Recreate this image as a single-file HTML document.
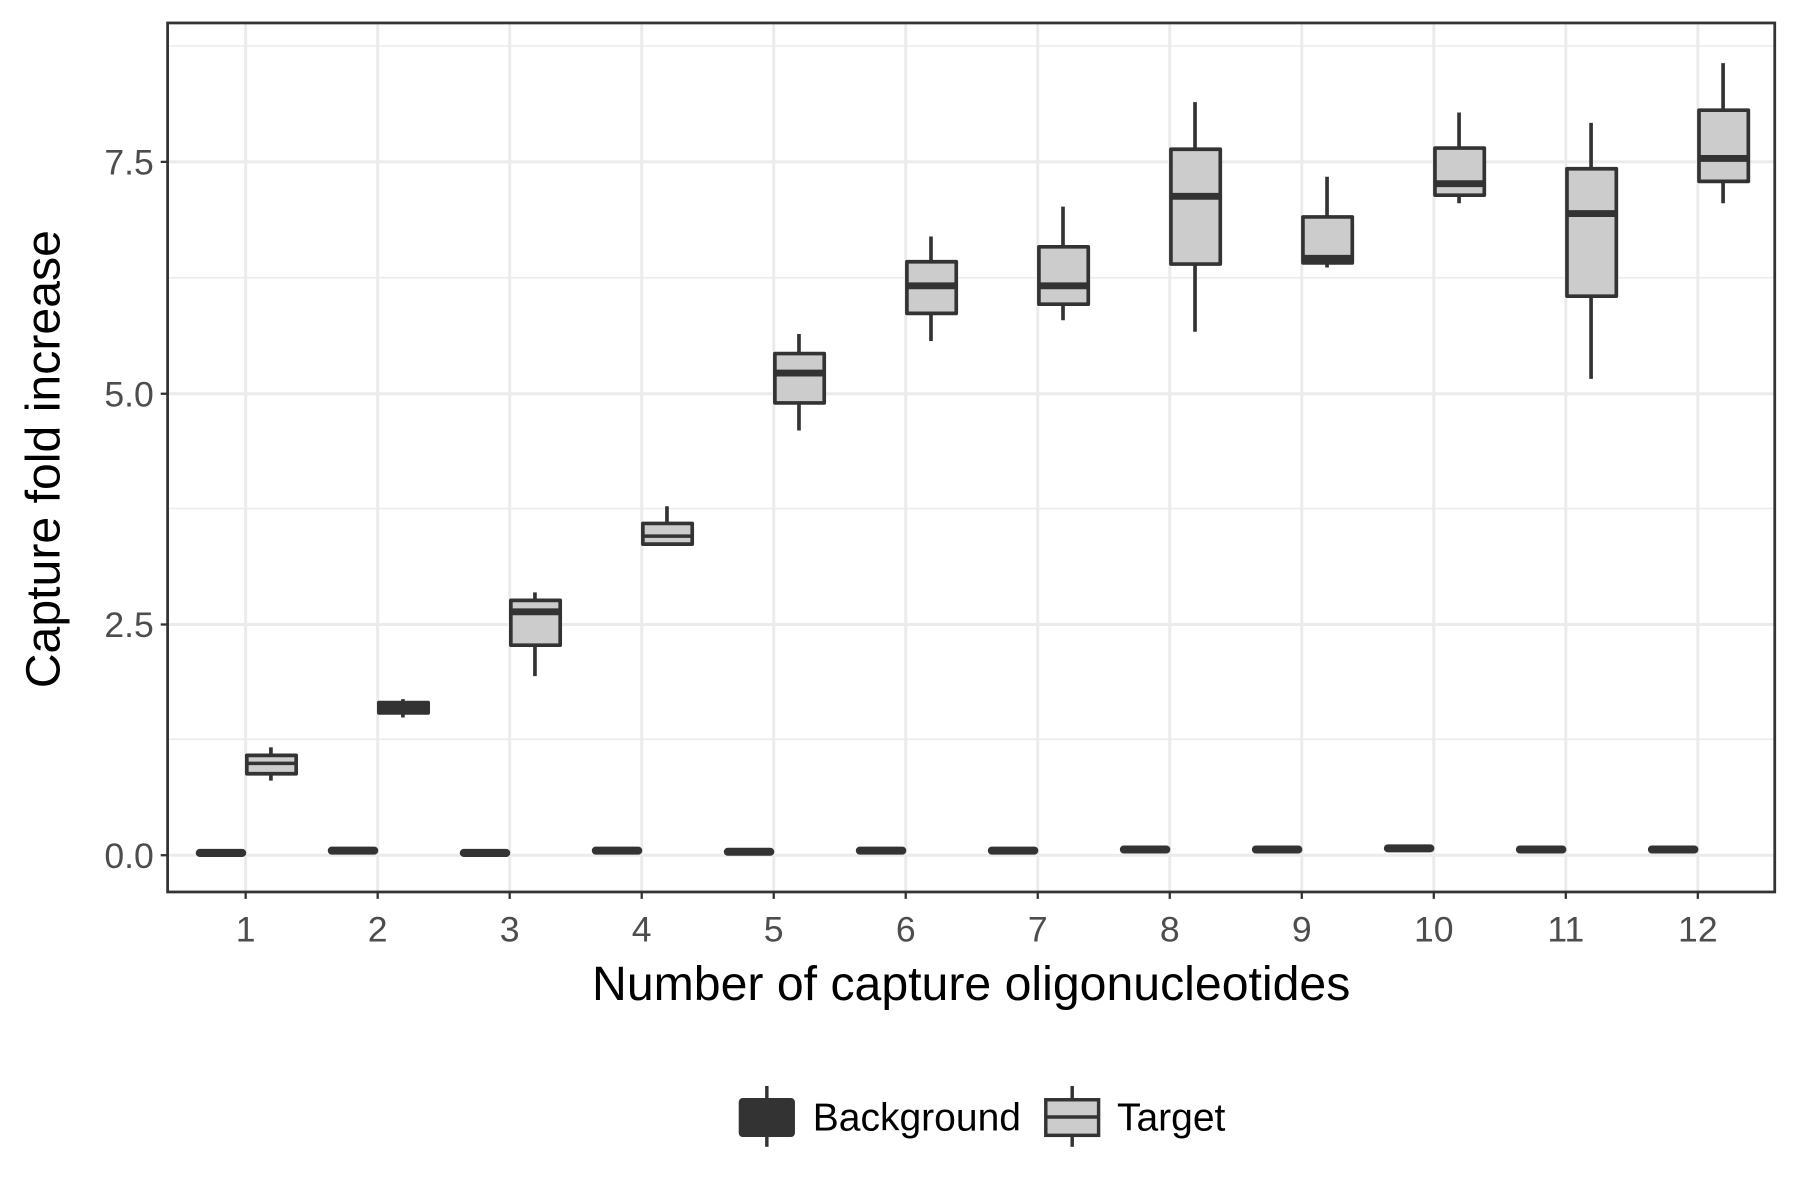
<!DOCTYPE html>
<html><head><style>body{margin:0;background:#fff}svg{display:block}</style></head><body>
<svg width="1800" height="1200" viewBox="0 0 1568 1045.33" preserveAspectRatio="none" xmlns="http://www.w3.org/2000/svg" font-family="Liberation Sans, sans-serif">
<rect width="1568" height="1046" fill="#fff"/>
<g stroke="#ebebeb" stroke-width="1.3">
<line x1="146" x2="1546" y1="644" y2="644"/><line x1="146" x2="1546" y1="443" y2="443"/><line x1="146" x2="1546" y1="242" y2="242"/><line x1="146" x2="1546" y1="40" y2="40"/>
</g>
<g stroke="#ebebeb" stroke-width="2.6">
<line x1="146" x2="1546" y1="745" y2="745"/><line x1="146" x2="1546" y1="544" y2="544"/><line x1="146" x2="1546" y1="343" y2="343"/><line x1="146" x2="1546" y1="141" y2="141"/>
<line y1="20" y2="777" x1="214" x2="214"/><line y1="20" y2="777" x1="329" x2="329"/><line y1="20" y2="777" x1="444" x2="444"/><line y1="20" y2="777" x1="559" x2="559"/><line y1="20" y2="777" x1="674" x2="674"/><line y1="20" y2="777" x1="789" x2="789"/><line y1="20" y2="777" x1="904" x2="904"/><line y1="20" y2="777" x1="1019" x2="1019"/><line y1="20" y2="777" x1="1134" x2="1134"/><line y1="20" y2="777" x1="1249" x2="1249"/><line y1="20" y2="777" x1="1364" x2="1364"/><line y1="20" y2="777" x1="1479" x2="1479"/>
</g>
<g fill="#333" stroke="#333" stroke-width="3" stroke-linejoin="round">
<rect x="172" y="741" width="41" height="4" rx="2"/>
<rect x="287" y="739" width="41" height="4" rx="2"/>
<rect x="402" y="741" width="41" height="4" rx="2"/>
<rect x="517" y="739" width="41" height="4" rx="2"/>
<rect x="632" y="740" width="41" height="4" rx="2"/>
<rect x="747" y="739" width="41" height="4" rx="2"/>
<rect x="862" y="739" width="41" height="4" rx="2"/>
<rect x="977" y="738" width="41" height="4" rx="2"/>
<rect x="1092" y="738" width="41" height="4" rx="2"/>
<rect x="1207" y="737" width="41" height="4" rx="2"/>
<rect x="1322" y="738" width="41" height="4" rx="2"/>
<rect x="1437" y="738" width="41" height="4" rx="2"/>
</g>
<g stroke="#333" stroke-width="3.2" fill="#cccccc" stroke-linejoin="round">
<line x1="236" x2="236" y1="651" y2="680"/><rect x="215" y="658" width="43" height="16"/><line x1="215" x2="258" y1="665" y2="665" stroke-width="3"/>
<line x1="351" x2="351" y1="609" y2="625"/><rect x="330" y="612" width="43" height="9" fill="#333"/>
<line x1="466" x2="466" y1="516" y2="589"/><rect x="445" y="523" width="43" height="39"/><line x1="445" x2="488" y1="533" y2="533" stroke-width="6"/>
<line x1="581" x2="581" y1="441" y2="474"/><rect x="560" y="456" width="43" height="18"/><line x1="560" x2="603" y1="467" y2="467" stroke-width="3"/>
<line x1="696" x2="696" y1="291" y2="375"/><rect x="675" y="308" width="43" height="43"/><line x1="675" x2="718" y1="325" y2="325" stroke-width="6"/>
<line x1="811" x2="811" y1="206" y2="297"/><rect x="790" y="228" width="43" height="45"/><line x1="790" x2="833" y1="249" y2="249" stroke-width="6"/>
<line x1="926" x2="926" y1="180" y2="279"/><rect x="905" y="215" width="43" height="50"/><line x1="905" x2="948" y1="249" y2="249" stroke-width="6"/>
<line x1="1041" x2="1041" y1="89" y2="289"/><rect x="1020" y="130" width="43" height="100"/><line x1="1020" x2="1063" y1="171" y2="171" stroke-width="6"/>
<line x1="1156" x2="1156" y1="154" y2="233"/><rect x="1135" y="189" width="43" height="40"/><line x1="1135" x2="1178" y1="225" y2="225" stroke-width="6"/>
<line x1="1271" x2="1271" y1="98" y2="177"/><rect x="1250" y="129" width="43" height="41"/><line x1="1250" x2="1293" y1="160" y2="160" stroke-width="6"/>
<line x1="1386" x2="1386" y1="107" y2="330"/><rect x="1365" y="147" width="43" height="111"/><line x1="1365" x2="1408" y1="186" y2="186" stroke-width="6"/>
<line x1="1501" x2="1501" y1="55" y2="177"/><rect x="1480" y="96" width="43" height="62"/><line x1="1480" x2="1523" y1="138" y2="138" stroke-width="6"/>
</g>
<rect x="146" y="20" width="1400" height="757" fill="none" stroke="#333" stroke-width="2.4"/>
<g stroke="#333" stroke-width="2">
<line x1="140" x2="146" y1="745" y2="745"/><line x1="140" x2="146" y1="544" y2="544"/><line x1="140" x2="146" y1="343" y2="343"/><line x1="140" x2="146" y1="141" y2="141"/>
<line y1="777" y2="783" x1="214" x2="214"/><line y1="777" y2="783" x1="329" x2="329"/><line y1="777" y2="783" x1="444" x2="444"/><line y1="777" y2="783" x1="559" x2="559"/><line y1="777" y2="783" x1="674" x2="674"/><line y1="777" y2="783" x1="789" x2="789"/><line y1="777" y2="783" x1="904" x2="904"/><line y1="777" y2="783" x1="1019" x2="1019"/><line y1="777" y2="783" x1="1134" x2="1134"/><line y1="777" y2="783" x1="1249" x2="1249"/><line y1="777" y2="783" x1="1364" x2="1364"/><line y1="777" y2="783" x1="1479" x2="1479"/>
</g>
<g fill="#4d4d4d" font-size="31" text-anchor="end">
<text x="134" y="756">0.0</text><text x="134" y="555">2.5</text><text x="134" y="354">5.0</text><text x="134" y="152">7.5</text>
</g>
<g fill="#4d4d4d" font-size="31" text-anchor="middle">
<text x="214" y="820">1</text><text x="329" y="820">2</text><text x="444" y="820">3</text><text x="559" y="820">4</text><text x="674" y="820">5</text><text x="789" y="820">6</text><text x="904" y="820">7</text><text x="1019" y="820">8</text><text x="1134" y="820">9</text><text x="1249" y="820">10</text><text x="1364" y="820">11</text><text x="1479" y="820">12</text>
</g>
<text x="846" y="871" font-size="42" text-anchor="middle" fill="#000">Number of capture oligonucleotides</text>
<text transform="translate(52,400) rotate(-90)" font-size="42" text-anchor="middle" fill="#000">Capture fold increase</text>
<g stroke="#333" stroke-width="3">
<line x1="668" x2="668" y1="946" y2="999"/><rect x="645" y="958" width="46" height="31" fill="#333" rx="2"/>
<line x1="934" x2="934" y1="946" y2="999"/><rect x="911" y="958" width="46" height="31" fill="#ccc"/><line x1="911" x2="957" y1="973" y2="973"/>
</g>
<text x="708" y="985" font-size="34" fill="#000">Background</text>
<text x="973" y="985" font-size="34" fill="#000">Target</text>
</svg>
</body></html>
